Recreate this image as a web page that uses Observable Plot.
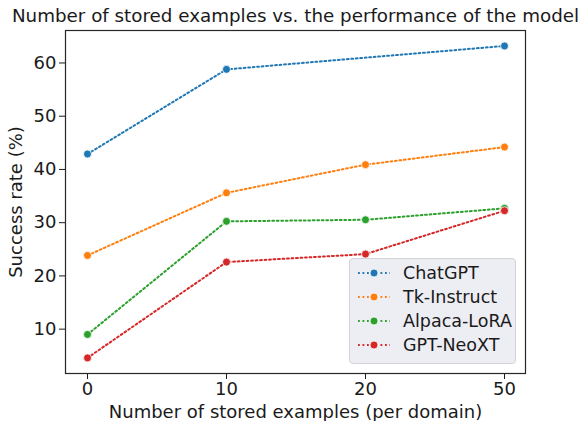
<!DOCTYPE html>
<html><head><meta charset="utf-8">
<script src="https://cdn.jsdelivr.net/npm/d3@7"></script>
<script src="https://cdn.jsdelivr.net/npm/@observablehq/plot@0.6"></script>
<style>
body{margin:0;background:#fff;font-family:"DejaVu Sans",sans-serif;}
#wrap{position:relative;width:585px;height:421px;}
#legend{position:absolute;left:349px;top:258px;width:167px;height:106px;background:rgba(234,234,242,0.85);border:1px solid #d4d4d8;border-radius:4px;box-sizing:border-box;padding-top:2px;}
.row{display:flex;align-items:center;height:24px;}
.row svg{margin-left:7px;margin-right:12px;}
.row span{font-size:17.5px;color:#1a1a1a;}
</style>
</head><body><div id="wrap"></div>
<script>
const xLabels = ["0", "10", "20", "50"];
const models = ["ChatGPT", "Tk-Instruct", "Alpaca-LoRA", "GPT-NeoXT"];
const colors = ["#1f77b4", "#ff7f0e", "#2ca02c", "#d62728"];
const chatgpt = [42.9, 58.8, null, 63.2];
const tkInstruct = [23.85, 35.6, 40.9, 44.2];
const alpacaLora = [9.0, 30.25, 30.55, 32.7];
const gptNeoxt = [4.6, 22.6, 24.1, 32.25];
const yTicks = [10, 20, 30, 40, 50, 60];
const title = "Number of stored examples vs. the performance of the model";
const xTitle = "Number of stored examples (per domain)";
const yTitle = "Success rate (%)";

const series = [chatgpt, tkInstruct, alpacaLora, gptNeoxt];
const data = models.flatMap((m, i) => xLabels.map((x, j) => ({model: m, x, y: series[i][j]})))
  .filter(d => d.y != null);

const chart = Plot.plot({
  width: 585, height: 421,
  marginLeft: 65, marginRight: 60, marginTop: 30, marginBottom: 48,
  style: {fontFamily: "DejaVu Sans", fontSize: "18px", color: "#1a1a1a", overflow: "visible", background: "white"},
  x: {type: "point", domain: xLabels, padding: 0.15},
  y: {domain: [1.67, 66.1]},
  color: {domain: models, range: colors},
  marks: [
    Plot.axisX({ticks: xLabels, tickSize: 6, tickPadding: 3, fontSize: 18, label: xTitle, labelAnchor: "center", labelArrow: "none", labelOffset: 44}),
    Plot.axisY({ticks: yTicks, tickSize: 6, tickPadding: 3, fontSize: 18, label: yTitle, labelAnchor: "center", labelArrow: "none", labelOffset: 56}),
    Plot.line(data, {x: "x", y: "y", z: "model", stroke: "model", strokeWidth: 2, strokeDasharray: "1.8,2.7"}),
    Plot.dot(data, {x: "x", y: "y", fill: "model", r: 4, stroke: "white", strokeWidth: 0.8}),
    Plot.frame({stroke: "#262626", strokeWidth: 1.2}),
    Plot.text([title], {frameAnchor: "top", lineAnchor: "middle", dy: -14.5, fontSize: 18.3, fill: "#1a1a1a"})
  ]
});
const wrap = document.getElementById("wrap");
wrap.appendChild(chart);

const legend = document.createElement("div");
legend.id = "legend";
models.forEach((m, i) => {
  const row = document.createElement("div");
  row.className = "row";
  row.innerHTML = `<svg width="34" height="24"><line x1="1" y1="12" x2="33" y2="12" stroke="${colors[i]}" stroke-width="2" stroke-dasharray="1.8,2.7"/><circle cx="17" cy="12" r="4" fill="${colors[i]}" stroke="white" stroke-width="0.8"/></svg><span>${m}</span>`;
  legend.appendChild(row);
});
wrap.appendChild(legend);
</script>
</body></html>
